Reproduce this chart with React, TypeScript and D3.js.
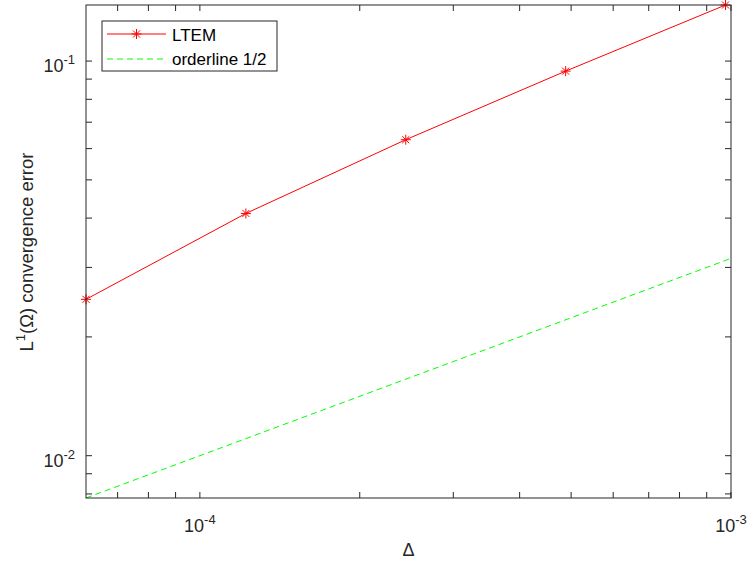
import React from "react";
import * as d3 from "d3";

const deltas = [1 / 16384, 1 / 8192, 1 / 4096, 1 / 2048, 1 / 1024];
const ltemErrors = [0.0249, 0.0411, 0.0632, 0.0943, 0.1387];
const orderX = [1 / 16384, 1e-3];
const xTickMajor = [1e-4, 1e-3];
const xTickLabels = ["-4", "-3"];
const yTickMajor = [1e-2, 1e-1];
const yTickLabels = ["-2", "-1"];
const legendLabels = ["LTEM", "orderline 1/2"];

const W = 751, H = 566;
const L = 86, R = 731, T = 5, B = 498;
const font = "Liberation Sans, Arial, Helvetica, sans-serif";
const axisColor = "#262626";

export default function App() {
  const x = d3.scaleLog().domain([1 / 16384, 1e-3]).range([L, R]);
  const y = d3.scaleLog().domain([0.0078125, 0.1387]).range([B, T]);

  const xMinor: number[] = [];
  for (let e = -5; e <= -3; e++) for (let m = 1; m <= 9; m++) {
    const v = m * Math.pow(10, e);
    if (v >= x.domain()[0] * 0.999 && v <= 1e-3 * 1.0001) xMinor.push(v);
  }
  const yMinor: number[] = [];
  for (let e = -3; e <= -1; e++) for (let m = 1; m <= 9; m++) {
    const v = m * Math.pow(10, e);
    if (v >= 0.0078125 * 0.999 && v <= 0.1387) yMinor.push(v);
  }
  const tl = 6;
  const line = d3.line<[number, number]>().x(d => x(d[0])).y(d => y(d[1]));
  const ltemPts: [number, number][] = deltas.map((d, i) => [d, ltemErrors[i]]);
  const orderPts: [number, number][] = orderX.map(d => [d, Math.sqrt(d)]);

  const star = (cx: number, cy: number, key: any) => {
    const r = 5;
    const d = r * 0.7071;
    return (
      <g key={key} stroke="red" strokeWidth={1}>
        <line x1={cx - r} y1={cy} x2={cx + r} y2={cy} />
        <line x1={cx} y1={cy - r} x2={cx} y2={cy + r} />
        <line x1={cx - d} y1={cy - d} x2={cx + d} y2={cy + d} />
        <line x1={cx - d} y1={cy + d} x2={cx + d} y2={cy - d} />
      </g>
    );
  };

  return (
    <svg width={W} height={H} style={{ position: "absolute", left: 0, top: 0 }} fontFamily={font}>
      <rect x={0} y={0} width={W} height={H} fill="white" />
      <defs>
        <clipPath id="clip"><rect x={L} y={T} width={R - L} height={B - T} /></clipPath>
      </defs>
      <g clipPath="url(#clip)">
        <path d={line(orderPts)!} fill="none" stroke="#00ff00" strokeWidth={1} strokeDasharray="6,4" />
        <path d={line(ltemPts)!} fill="none" stroke="red" strokeWidth={1} />
      </g>
      {ltemPts.map((p, i) => star(x(p[0]), y(p[1]), i))}
      <g stroke={axisColor} strokeWidth={1}>
        {xMinor.map((v, i) => (
          <g key={"xm" + i}>
            <line x1={x(v)} x2={x(v)} y1={B} y2={B - tl} />
            <line x1={x(v)} x2={x(v)} y1={T} y2={T + tl} />
          </g>
        ))}
        {yMinor.map((v, i) => (
          <g key={"ym" + i}>
            <line x1={L} x2={L + tl} y1={y(v)} y2={y(v)} />
            <line x1={R} x2={R - tl} y1={y(v)} y2={y(v)} />
          </g>
        ))}
      </g>
      <rect x={L} y={T} width={R - L} height={B - T} fill="none" stroke={axisColor} strokeWidth={1} />
      {xTickMajor.map((v, i) => (
        <text key={"xl" + i} x={x(v)} y={B + 34} fontSize={18} fill={axisColor} textAnchor="middle">
          10<tspan dy={-8} fontSize={13}>{xTickLabels[i]}</tspan>
        </text>
      ))}
      {yTickMajor.map((v, i) => (
        <text key={"yl" + i} x={L - 11} y={y(v) + 11} fontSize={18} fill={axisColor} textAnchor="end">
          10<tspan dy={-8} fontSize={13}>{yTickLabels[i]}</tspan>
        </text>
      ))}
      <text x={408.5} y={556} fontSize={18} fill={axisColor} textAnchor="middle">Δ</text>
      <text transform={`translate(33, 252) rotate(-90)`} fontSize={18.5} fill={axisColor} textAnchor="middle">
        L<tspan dy={-8} fontSize={13}>1</tspan><tspan dy={8}>(Ω) convergence error</tspan>
      </text>
      <rect x={102} y={21} width={175} height={50} fill="white" stroke={axisColor} strokeWidth={1} />
      <line x1={107} x2={166} y1={34} y2={34} stroke="red" strokeWidth={1} />
      {star(136.5, 34, "leg")}
      <line x1={107} x2={166} y1={59} y2={59} stroke="#00ff00" strokeWidth={1} strokeDasharray="6,4" />
      <text x={172} y={41} fontSize={17} fill="#000">{legendLabels[0]}</text>
      <text x={172} y={65} fontSize={17} fill="#000">{legendLabels[1]}</text>
    </svg>
  );
}
